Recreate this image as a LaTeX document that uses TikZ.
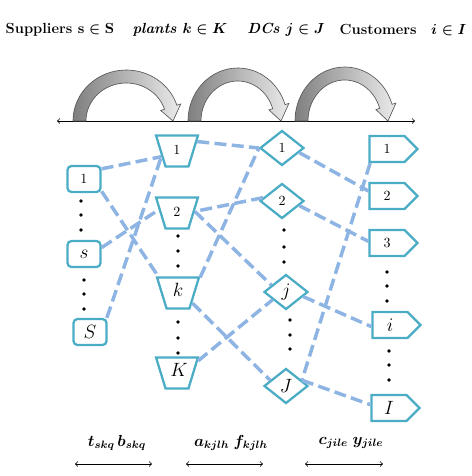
\documentclass[tikz,border=0pt]{standalone}
\usepackage{amsmath}
\usepackage{amssymb}
\usepackage{tikz}
\usepackage{xcolor}
\usepackage{bm}
\usetikzlibrary{shapes.geometric}
\usetikzlibrary{shapes.symbols}
\usetikzlibrary{calc}

\definecolor{nodeteal}{RGB}{75,172,198}
\definecolor{flowblue}{RGB}{141,180,226}

% gray curved arrow: centre x, outer x radius, outer y radius
\newcommand{\grayarc}[3]{%
  \shadedraw[left color=black!50,right color=black!8,draw=black!65,line width=0.5pt]
    (#1,121) ++(180:#2 and #3) arc[start angle=180,end angle=342,x radius=#2,y radius=#3]
    -- ($(#1,121)+(342:#2+4 and #3+4)$)
    -- ($(#1,121)+(0:#2-6.5 and #3-6.5)$)
    -- ($(#1,121)+(342:#2-17 and #3-17)$)
    -- ($(#1,121)+(342:#2-13 and #3-13)$)
    arc[start angle=342,end angle=180,x radius=#2-13,y radius=#3-13]
    -- cycle;}

\begin{document}
\begin{tikzpicture}[x=0.75pt,y=0.75pt,yscale=-1,xscale=1,
  every node/.style={font=\fontsize{10.5}{12}\selectfont},
  letter/.style={font=\fontsize{14}{16}\selectfont},
  hdr/.style={font=\fontsize{11}{13}\selectfont\bfseries\boldmath},
  supbox/.style={draw=nodeteal,line width=1.7pt,rounded corners=3pt,minimum width=24.75pt,minimum height=19.5pt,inner sep=0pt},
  plantbox/.style={draw=nodeteal,line width=1.7pt,trapezium,shape border rotate=180,trapezium left angle=73,trapezium right angle=73,text width=10pt,align=center,text height=8pt,text depth=3pt,inner xsep=3.6pt,inner ysep=6.1pt},
  dcbox/.style={draw=nodeteal,line width=1.7pt,diamond,minimum width=33pt,minimum height=26.25pt,inner sep=0pt},
  cusbox/.style={draw=nodeteal,line width=1.7pt,signal,signal to=east,signal pointer angle=90,minimum width=36pt,minimum height=19.5pt,inner sep=0pt},
  flow/.style={draw=flowblue,line width=2.6pt,dash pattern=on 9pt off 4pt},
  span/.style={<->,line width=0.6pt}]
  \useasboundingbox (0,0) rectangle (472,476);

  % Text Node
  \node[hdr] (hsup) at (60,30) {Suppliers $\mathbf{s}\in\mathbf{S}$};
  % Text Node
  \node[hdr] (hplant) at (180,30) {\itshape plants $\bm{k}\in\bm{K}$};
  % Text Node
  \node[hdr] (hdc) at (286,30) {\itshape DCs $\bm{j}\in\bm{J}$};
  % Text Node
  \node[hdr] (hcus) at (403,30) {Customers\quad$\bm{i}\in\bm{I}$};

  %Straight Lines
  \coordinate (axl) at (57,121);
  \coordinate (axr) at (415,121);
  \draw[span] (axl) -- (axr);

  %Shape: curved arrows
  \grayarc{126.25}{53.25}{51}
  \grayarc{237.75}{49.75}{53}
  \grayarc{344.75}{49.75}{54}

  %Shape: suppliers
  \node[supbox] (sup1) at (84,179) {1};
  \node[supbox,letter] (supmid) at (84,254) {$s$};
  \node[supbox,letter] (suplast) at (90,332) {$S$};
  %Shape: plants
  \node[plantbox] (plant1) at (177,151) {1};
  \node[plantbox] (plant2) at (177,213) {2};
  \node[plantbox,letter] (plantmid) at (178,293) {$k$};
  \node[plantbox,letter] (plantlast) at (177,373) {$K$};
  %Shape: DCs
  \node[dcbox] (dc1) at (282,148) {1};
  \node[dcbox] (dc2) at (282,201) {2};
  \node[dcbox,letter] (dcmid) at (286,292) {$j$};
  \node[dcbox,letter] (dclast) at (286,386) {$J$};
  %Shape: customers
  \node[cusbox] (cus1) at (387,149) {1};
  \node[cusbox] (cus2) at (387,196) {2};
  \node[cusbox] (cus3) at (387,243) {3};
  \node[cusbox,letter] (cusmid) at (390,325) {$i$};
  \node[cusbox,letter] (cuslast) at (389,408) {$I$};

  % dots
  \fill (81,201) circle (1.8) (81,215) circle (1.8) (81,230) circle (1.8);
  \fill (84,280) circle (1.8) (84,294) circle (1.8) (84,309) circle (1.8);
  \fill (178,236) circle (1.8) (178,251) circle (1.8) (178,266) circle (1.8);
  \fill (178,322) circle (1.8) (178,338) circle (1.8) (178,353) circle (1.8);
  \fill (284,230) circle (1.8) (284,247) circle (1.8) (284,262) circle (1.8);
  \fill (290,320) circle (1.8) (290,335) circle (1.8) (290,349) circle (1.8);
  \fill (387,272) circle (1.8) (387,286) circle (1.8) (387,301) circle (1.8);
  \fill (389,351) circle (1.8) (389,365) circle (1.8) (389,380) circle (1.8);

  %Straight Lines: suppliers to plants
  \draw[flow] (sup1.30) -- (plant1.200);
  \draw[flow] (sup1.-35) -- (plantmid.140);
  \draw[flow] (supmid.20) -- (plant2.170);
  \draw[flow] (suplast.40) -- (plant1.200);
  %Straight Lines: plants to DCs
  \draw[flow] (plant1.25) -- (dc1.west);
  \draw[flow] (plantmid.35) -- (dc1.west);
  \draw[flow] (dc2.170) -- (plant2.5);
  \draw[flow] (plant2.5) -- (dcmid.155);
  \draw[flow] (plantlast.30) -- (dcmid.210);
  \draw[flow] (plantmid.-35) -- (dclast.160);
  %Straight Lines: DCs to customers
  \draw[flow] (dc1.-15) -- (cus2.165);
  \draw[flow] (dc2.-15) -- (cus3.175);
  \draw[flow] (dcmid.-15) -- (cusmid.185);
  \draw[flow] (dclast.20) -- (cuslast.170);
  \draw[flow] (cus1.220) -- (dclast.20);

  % Text Node
  \node[font=\fontsize{12}{14}\selectfont] (lab1) at (117,443) {$\bm{t_{skq}\,b_{skq}}$};
  \node[font=\fontsize{12}{14}\selectfont] (lab2) at (231,443) {$\bm{a_{kjlh}\;f_{kjlh}}$};
  \node[font=\fontsize{12}{14}\selectfont] (lab3) at (351,443) {$\bm{c_{jile}\;y_{jile}}$};
  \coordinate (s1l) at (75,464);
  \coordinate (s1r) at (152,464);
  \coordinate (s2l) at (186,464);
  \coordinate (s2r) at (263,464);
  \coordinate (s3l) at (305,464);
  \coordinate (s3r) at (383,464);
  \draw[span] (s1l) -- (s1r);
  \draw[span] (s2l) -- (s2r);
  \draw[span] (s3l) -- (s3r);
\end{tikzpicture}
\end{document}
